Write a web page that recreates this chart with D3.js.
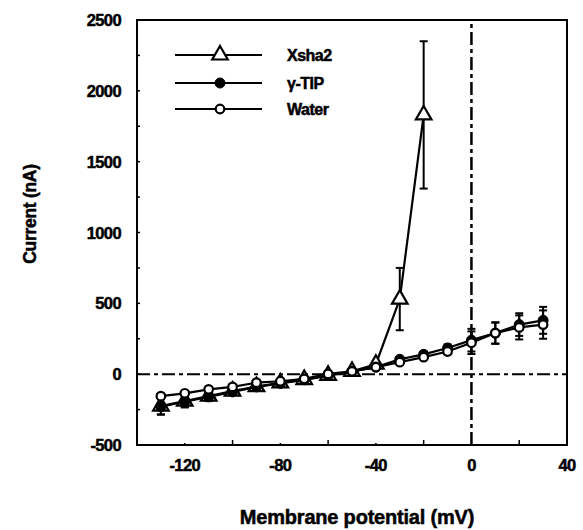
<!DOCTYPE html>
<html><head><meta charset="utf-8">
<script src="https://cdn.jsdelivr.net/npm/d3@7/dist/d3.min.js"></script>
<style>body{margin:0;background:#fff}svg{display:block}text{font-family:"Liberation Sans",Arial,sans-serif;font-weight:bold;fill:#000;stroke:#000;stroke-width:0.5px}</style>
</head><body>
<script>
const voltages = [-130,-120,-110,-100,-90,-80,-70,-60,-50,-40,-30,-20,-10,0,10,20,30];
const xshaV = [-130,-120,-110,-100,-90,-80,-70,-60,-50,-40,-30,-20];
const xshaI = [-225,-190,-155,-120,-88,-62,-38,-8,20,70,530,1830];
const xshaE = [60,40,30,20,15,15,10,10,10,15,220,520];
const tipI = [-230,-195,-160,-125,-90,-65,-40,-10,20,50,105,140,185,240,290,350,380];
const tipE = [55,40,30,20,15,15,10,10,10,10,15,20,25,80,75,80,95];
const waterI = [-155,-135,-107,-90,-60,-50,-33,2,20,50,85,120,160,222,290,330,350];
const waterE = [15,10,10,10,10,10,10,10,10,10,15,15,20,80,75,85,100];
const xTicks = [-120,-80,-40,0,40];
const yTicks = [-500,0,500,1000,1500,2000,2500];
const seriesNames = ["Xsha2","γ-TIP","Water"];

const W=583,H=530;
const svg=d3.select("body").append("svg").attr("width",W).attr("height",H);
const x=d3.scaleLinear().domain([-140,40]).range([137,567]);
const y=d3.scaleLinear().domain([-500,2500]).range([445,20]);

// reference lines
svg.append("line").attr("x1",x(-140)).attr("x2",x(40)).attr("y1",y(0)).attr("y2",y(0))
  .attr("stroke","#000").attr("stroke-width",2).attr("stroke-dasharray","13,4,4,4");
svg.append("line").attr("x1",x(0)).attr("x2",x(0)).attr("y1",y(-500)).attr("y2",y(2500))
  .attr("stroke","#000").attr("stroke-width",2.5).attr("stroke-dasharray","13,4,4,4");

// frame
svg.append("rect").attr("x",x(-140)).attr("y",y(2500)).attr("width",x(40)-x(-140)).attr("height",y(-500)-y(2500))
  .attr("fill","none").attr("stroke","#000").attr("stroke-width",2);

// ticks (inward)
d3.range(-140,41,20).forEach(v=>{ if(v>-140&&v<40){
  const len = xTicks.includes(v)?2:5;
  svg.append("line").attr("x1",x(v)).attr("x2",x(v)).attr("y1",y(-500)).attr("y2",y(-500)-len).attr("stroke","#000").attr("stroke-width",1.5);
}});
d3.range(-250,2500,250).forEach(v=>{
  svg.append("line").attr("x1",x(-140)).attr("x2",x(-140)+3).attr("y1",y(v)).attr("y2",y(v)).attr("stroke","#000").attr("stroke-width",1.5);
});

// tick labels
svg.selectAll(".xl").data(xTicks).enter().append("text").attr("x",d=>x(d)).attr("y",471)
  .attr("text-anchor","middle").attr("font-size",16.5).attr("letter-spacing",-0.6).text(d=>d);
svg.selectAll(".yl").data(yTicks).enter().append("text").attr("x",121).attr("y",d=>y(d)+6)
  .attr("text-anchor","end").attr("font-size",16.5).attr("letter-spacing",-0.6).text(d=>d);

// axis titles
svg.append("text").attr("x",357).attr("y",524).attr("text-anchor","middle").attr("font-size",20).attr("letter-spacing",-0.2).text("Membrane potential (mV)");
svg.append("text").attr("transform","translate(36,214) rotate(-90)").attr("text-anchor","middle").attr("font-size",17.5).attr("letter-spacing",-0.3).text("Current (nA)");

const line=d3.line().x(d=>x(d[0])).y(d=>y(d[1]));
function drawSeries(xs,ys,es,marker){
  const pts=xs.map((v,i)=>[v,ys[i],es[i]]);
  const g=svg.append("g");
  g.append("path").attr("d",line(pts)).attr("fill","none").attr("stroke","#000").attr("stroke-width",2.2);
  pts.forEach(p=>{
    const cx=x(p[0]);
    g.append("line").attr("x1",cx).attr("x2",cx).attr("y1",y(p[1]-p[2])).attr("y2",y(p[1]+p[2])).attr("stroke","#000").attr("stroke-width",2);
    [p[1]-p[2],p[1]+p[2]].forEach(v=>g.append("line").attr("x1",cx-4).attr("x2",cx+4).attr("y1",y(v)).attr("y2",y(v)).attr("stroke","#000").attr("stroke-width",2));
  });
  pts.forEach(p=>marker(g,x(p[0]),y(p[1])));
}
const tri=(g,cx,cy)=>g.append("path").attr("d",d3.symbol(d3.symbolTriangle,105)()).attr("transform",`translate(${cx},${cy})`).attr("fill","#fff").attr("stroke","#000").attr("stroke-width",2.2);
const dot=(g,cx,cy)=>g.append("circle").attr("cx",cx).attr("cy",cy).attr("r",5).attr("fill","#000").attr("stroke","#000");
const ring=(g,cx,cy)=>g.append("circle").attr("cx",cx).attr("cy",cy).attr("r",4.3).attr("fill","#fff").attr("stroke","#000").attr("stroke-width",2.2);

drawSeries(xshaV,xshaI,xshaE,tri);
drawSeries(voltages,tipI,tipE,dot);
drawSeries(voltages,waterI,waterE,ring);

// legend
const markers=[tri,dot,ring];
[55,83,109].forEach((ly,i)=>{
  svg.append("line").attr("x1",175).attr("x2",262).attr("y1",ly).attr("y2",ly).attr("stroke","#000").attr("stroke-width",1.8);
  markers[i](svg,220,ly);
  svg.append("text").attr("x",287).attr("y",ly+6).attr("font-size",16).attr("letter-spacing",-0.5).text(seriesNames[i]);
});
</script>
</body></html>
